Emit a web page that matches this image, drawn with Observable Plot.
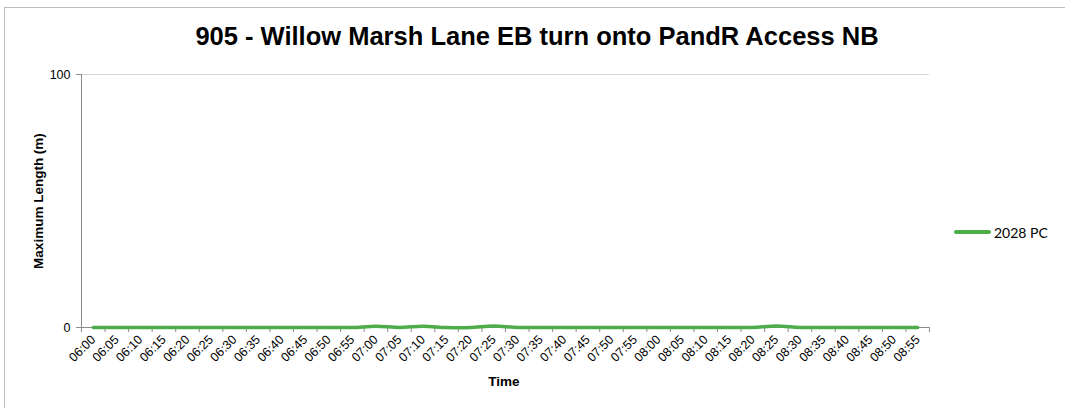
<!DOCTYPE html>
<html>
<head>
<meta charset="utf-8">
<script src="https://cdn.jsdelivr.net/npm/d3@7"></script>
<script src="https://cdn.jsdelivr.net/npm/@observablehq/plot@0.6"></script>
<style>
  html, body { margin: 0; padding: 0; background: #fff; }
  #wrap { position: relative; width: 1065px; height: 408px; overflow: hidden; font-family: "Liberation Sans", Arial, sans-serif; }
  #border { position: absolute; left: 4px; top: 7px; width: 1200px; height: 500px; border: 1px solid #bdbdbd; box-sizing: border-box; }
  #chart { position: absolute; left: 0; top: 0; }
  .abs { position: absolute; white-space: nowrap; transform: translate(-50%, -50%); line-height: 1; }
  #title { left: 537px; top: 37px; font-weight: bold; font-size: 25.5px; color: #000; }
  #ylabel { left: 39px; top: 201px; font-weight: bold; font-size: 13.5px; transform: translate(-50%, -50%) rotate(-90deg); }
  #xlabel { left: 504px; top: 382px; font-weight: bold; font-size: 13.5px; }
  #legend { position: absolute; left: 954px; top: 222px; display: flex; align-items: center; height: 20px; }
  #legend .sw { width: 37px; height: 4px; background: #4ead4a; border-radius: 2px; }
  #legend .lab { margin-left: 3px; font-family: Lato, "Open Sans", sans-serif; font-size: 14px; color: #000; }
</style>
</head>
<body>
<div id="wrap">
  <div id="border"></div>
  <div id="chart"></div>
  <div id="title" class="abs">905 - Willow Marsh Lane EB turn onto PandR Access NB</div>
  <div id="ylabel" class="abs">Maximum Length (m)</div>
  <div id="xlabel" class="abs">Time</div>
  <div id="legend"><div class="sw"></div><div class="lab">2028 PC</div></div>
</div>
<script>
const times = ["06:00","06:05","06:10","06:15","06:20","06:25","06:30","06:35","06:40","06:45","06:50","06:55",
               "07:00","07:05","07:10","07:15","07:20","07:25","07:30","07:35","07:40","07:45","07:50","07:55",
               "08:00","08:05","08:10","08:15","08:20","08:25","08:30","08:35","08:40","08:45","08:50","08:55"];
const values2028PC = [0,0,0,0,0,0,0,0,0,0,0,0,
                      0.5,0,0.5,0,0,0.6,0,0,0,0,0,0,
                      0,0,0,0,0,0.6,0,0,0,0,0,0];
const yTicks = [0, 100];
const seriesName = "2028 PC";

const data = times.map((t, i) => ({i, t, v: values2028PC[i], s: seriesName}));
const idx = d3.range(times.length);
const bounds = d3.range(times.length + 1).map(i => i - 0.5);

const chart = Plot.plot({
  width: 1065, height: 408,
  marginLeft: 81, marginRight: 136, marginTop: 74, marginBottom: 81,
  x: {type: "linear", domain: [-0.5, times.length - 0.5], axis: null},
  y: {domain: [0, 100], axis: null},
  style: {fontFamily: "'Liberation Sans', Arial, sans-serif", fontSize: "12px", background: "transparent", color: "#000"},
  marks: [
    Plot.gridY([100], {stroke: "#d9d9d9", strokeOpacity: 1}),
    Plot.ruleX([-0.5], {stroke: "#8c8c8c"}),
    Plot.ruleY([0], {stroke: "#8c8c8c"}),
    Plot.axisY(yTicks, {anchor: "left", label: null, tickSize: 5, tickPadding: 6, stroke: "#8c8c8c", fontSize: 12.5}),
    Plot.axisX(bounds, {anchor: "bottom", label: null, tickSize: 5, tickFormat: () => "", stroke: "#8c8c8c"}),
    Plot.axisX(idx, {anchor: "bottom", label: null, tickSize: 0, tickPadding: 10, tickRotate: -45, tickFormat: i => times[i], fontSize: 12.5}),
    Plot.line(data, {x: "i", y: "v", stroke: "#4ead4a", strokeWidth: 3.5, curve: "catmull-rom"})
  ]
});
document.getElementById("chart").appendChild(chart);
</script>
</body>
</html>
